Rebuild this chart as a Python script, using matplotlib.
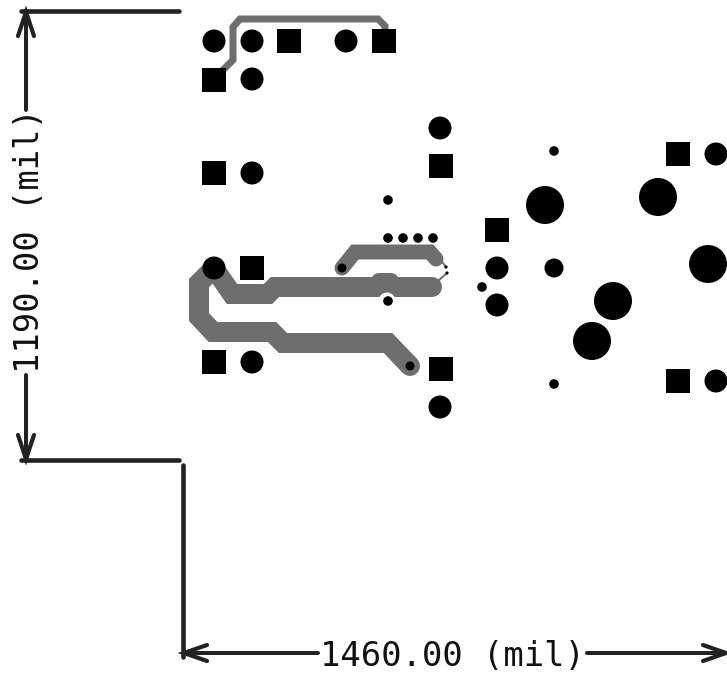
import matplotlib
matplotlib.use("Agg")
import matplotlib.pyplot as plt
from matplotlib.patches import Circle, Rectangle

W, H, DPI = 727, 675, 100
BLACK = "#000000"
GRAY = "#6e6e6e"
DIM = "#222222"

# pads, in reference pixel coordinates
round_pads = [(214, 41), (252, 41), (346, 41), (252, 79), (252, 173), (214, 268), (252, 362),
              (440, 128), (497, 268), (497, 305), (440, 407), (716, 154), (716, 381)]
square_pads = [(289, 41), (384, 41), (214, 80), (214, 173), (252, 268), (214, 362),
               (441, 166), (497, 230), (441, 369), (678, 154), (678, 381)]
large_holes = [(545, 205), (658, 197), (708, 264), (613, 301), (592, 341)]
medium_holes = [(554, 268)]
small_holes = [(554, 151), (554, 384), (388, 200), (388, 238), (403, 238), (418, 238),
               (433, 238), (388, 301), (482, 287)]
trace_vias = [(342, 268), (410, 366)]
tiny_vias = [(446, 267), (447, 273)]

# copper traces: (points, width in px)
traces = [
    ([(213, 80), (233, 60), (233, 27), (240, 19), (378, 19), (385, 26), (385, 41)], 7),
    ([(342, 268), (355, 252), (430, 252), (436, 259)], 15),
    ([(430, 246), (446, 267)], 2),
    ([(439, 280), (447, 273)], 2),
    ([(214, 268), (232, 294), (268, 294), (275, 287), (432, 287)], 20),
    ([(214, 268), (199, 283), (199, 317), (213, 332), (272, 332), (283, 343), (388, 343), (410, 366)], 20),
    ([(379, 281), (391, 281)], 16),
]
clearance = (387, 301)

# dimension drawing
dim_lines = [
    [(21, 11), (179, 11)], [(21, 460), (179, 460)], [(183, 465), (183, 657)],
    [(26, 11), (26, 110)], [(26, 375), (26, 460)],
    [(183, 653), (318, 653)], [(587, 653), (727, 653)],
]
arrow_heads = [
    [(18, 36), (26, 12), (34, 36)], [(18, 435), (26, 459), (34, 435)],
    [(207, 645), (184, 653), (207, 661)], [(703, 645), (726, 653), (703, 661)],
]
h_label = "1460.00 (mil)"
v_label = "1190.00 (mil)"

fig = plt.figure(figsize=(W / DPI, H / DPI), dpi=DPI, facecolor="white")
ax = fig.add_axes([0, 0, 1, 1])
ax.set_xlim(0, W)
ax.set_ylim(H, 0)
ax.axis("off")
px = 72 / DPI

for pts, w in traces:
    ax.plot(*zip(*pts), color=GRAY, lw=w * px, solid_capstyle="round",
            solid_joinstyle="miter", zorder=2)
ax.add_patch(Circle(clearance, 8.5, fc="white", ec="none", zorder=3))

for c in round_pads:
    ax.add_patch(Circle(c, 11.5, fc=BLACK, ec="none", zorder=4))
for x, y in square_pads:
    ax.add_patch(Rectangle((x - 12, y - 12), 24, 24, fc=BLACK, ec="none", zorder=4))
for c in large_holes:
    ax.add_patch(Circle(c, 19, fc=BLACK, ec="none", zorder=4))
for c in medium_holes:
    ax.add_patch(Circle(c, 9.5, fc=BLACK, ec="none", zorder=4))
for c in small_holes:
    ax.add_patch(Circle(c, 4.8, fc=BLACK, ec="none", zorder=4))
for c in trace_vias:
    ax.add_patch(Circle(c, 4.5, fc=BLACK, ec="none", zorder=4))
for c in tiny_vias:
    ax.add_patch(Circle(c, 1.6, fc=BLACK, ec="none", zorder=4))

for i, pts in enumerate(dim_lines):
    ax.plot(*zip(*pts), color=DIM, lw=(4.6 if i < 3 else 4) * px, solid_capstyle="round", zorder=5)
for pts in arrow_heads:
    ax.plot(*zip(*pts), color=DIM, lw=4.2 * px, solid_capstyle="round",
            solid_joinstyle="miter", zorder=5)

font = dict(family="DejaVu Sans Mono", fontsize=24.4, color="#111111", zorder=6)
ax.text(452, 657, h_label, ha="center", va="center", **font)
ax.text(30, 241, v_label, ha="center", va="center", rotation=90, **font)

fig.savefig("out.png", dpi=DPI, facecolor="white")
